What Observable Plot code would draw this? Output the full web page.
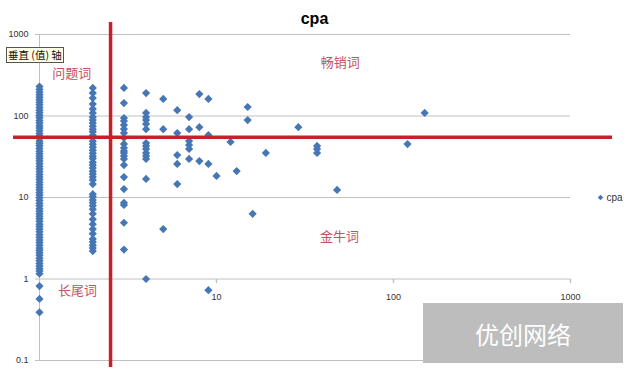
<!DOCTYPE html>
<html><head><meta charset="utf-8">
<script src="https://cdn.jsdelivr.net/npm/d3@7"></script>
<script src="https://cdn.jsdelivr.net/npm/@observablehq/plot@0.6"></script>
<style>
body{margin:0;background:#fff;}
#wrap{position:relative;width:628px;height:369px;overflow:hidden;font-family:"Liberation Sans",Arial,sans-serif;}
#wrap svg{position:absolute;left:0;top:0;}
#tip{position:absolute;left:6px;top:47px;height:14px;padding:0 1px;border:1px solid #555;background:#ffffe6;font:10.5px "Noto Sans CJK SC";line-height:14px;color:#111;white-space:nowrap;}
#wm{position:absolute;left:423px;top:303px;width:200px;height:60px;background:#bdbdbd;color:#fff;font:24px "Noto Sans CJK SC";display:flex;align-items:center;justify-content:center;}
</style></head>
<body>
<div id="wrap"></div>
<script>
// Clicks (x) groups and their cpa values (y)
const groupX = [1, 2, 3, 4, 5, 6, 7, 8, 9, 10, 12, 13, 15, 16, 19, 29, 37, 48, 120, 150];
const groupCpa = [
  [230, 212, 196, 182, 170, 158, 147, 137, 127, 118, 110, 102, 95, 88, 82, 76, 71, 66, 61, 57, 53, 49, 46, 43, 40, 37, 34.5, 32, 30, 28, 26, 24, 22.3, 20.7, 19.2, 17.9, 16.6, 15.4, 14.3, 13.3, 12.4, 11.5, 10.7, 9.9, 9.2, 8.5, 7.9, 7.3, 6.8, 6.3, 5.9, 5.5, 5.1, 4.7, 4.4, 4.1, 3.8, 3.5, 3.25, 3.0, 2.8, 2.6, 2.4, 2.25, 2.1, 1.95, 1.8, 1.67, 1.55, 1.44, 1.34, 1.25, 1.16, 0.82, 0.57, 0.39],
  [221, 191, 166, 140, 122, 109, 97, 89, 82, 75, 69, 64, 58, 54, 49, 45, 41.5, 38, 35, 32, 30, 27, 25, 23, 21, 19.4, 17.8, 16.4, 14.6, 11, 10.2, 9.3, 8.6, 7.9, 7.2, 6.3, 5.4, 4.7, 4.1, 3.6, 3.1, 2.85, 2.6, 2.4, 2.2],
  [221, 144, 94.5, 86.8, 77.6, 69.2, 61.8, 53.7, 45.3, 40.5, 37.2, 35.2, 32.3, 29.7, 25, 17.8, 12.7, 8.6, 8.1, 4.9, 2.3],
  [191, 109, 97, 89, 80, 69, 46.6, 42.9, 39.4, 35.2, 32.3, 29.7, 16.9, 1.0],
  [162, 69, 4.1],
  [118, 61.8, 33.2, 25.8, 14.6],
  [97, 69, 49.3, 44.1, 39.4, 29.7],
  [186, 73, 28],
  [162, 58.4, 25.8, 0.73],
  [18.4],
  [48],
  [21.1],
  [129, 89],
  [6.3],
  [35.2],
  [73],
  [42.9, 39.4, 35.2],
  [12.4],
  [45.3],
  [109]
];
const thresholdX = 2.52;
const thresholdY = 55;
const yTicks = [1000, 100, 10, 1, 0.1];
const xTicks = [10, 100, 1000];
const quadrantLabels = ["问题词", "畅销词", "金牛词", "长尾词"];
const quadrantX = [1.52, 50, 49.5, 1.64];
const quadrantY = [327, 447, 3.28, 0.712];
const seriesName = "cpa";
const axisTitle = "垂直 (值) 轴";
const watermark = "优创网络";

const points = groupX.flatMap((x, i) => groupCpa[i].map(y => ({x, y})));
const quadrants = quadrantLabels.map((label, i) => ({label, x: quadrantX[i], y: quadrantY[i]}));

const blue = "#4676b3";
const red = "#c8202a";
const grid = "#c0c0c0";
const labelColor = "#c65064";
const tickDown = {draw(ctx) { ctx.moveTo(0, 0); ctx.lineTo(0, 4); }};

const chart = Plot.plot({
  width: 628, height: 369,
  marginLeft: 39, marginRight: 58, marginTop: 34, marginBottom: 9,
  x: {type: "log", domain: [1, 1000], axis: null},
  y: {type: "log", domain: [0.1, 1000], axis: null},
  style: {fontFamily: "'Liberation Sans', Arial, sans-serif", background: "transparent", overflow: "visible"},
  marks: [
    Plot.ruleY(yTicks, {y: d => d, stroke: grid, insetLeft: -4}),
    Plot.ruleX([1], {x: d => d, stroke: grid}),
    Plot.dot(xTicks, {x: d => d, y: () => 1, symbol: tickDown, stroke: grid, fill: "none"}),
    Plot.text(yTicks, {y: d => d, text: d => String(d), frameAnchor: "left", textAnchor: "end", dx: -11, fontSize: 9, fill: "#333"}),
    Plot.text(xTicks, {x: d => d, y: () => 1, text: d => String(d), dy: 18, fontSize: 9, fill: "#333"}),
    Plot.dot(points, {x: "x", y: "y", symbol: "diamond2", r: 3.7, fill: blue}),
    Plot.ruleX([thresholdX], {x: d => d, stroke: red, strokeWidth: 3.5, insetTop: -12, insetBottom: -7}),
    Plot.ruleY([thresholdY], {y: d => d, stroke: red, strokeWidth: 3.5, insetLeft: -26, insetRight: -42}),
    Plot.text(quadrants, {x: "x", y: "y", text: "label", fill: labelColor, fontSize: 13, fontFamily: "'Noto Sans CJK SC'"}),
    Plot.text([seriesName], {text: d => d, frameAnchor: "top", dx: 9.5, dy: -22, fontSize: 16, fontWeight: "bold", fill: "#000"}),
    Plot.dot([seriesName], {frameAnchor: "right", dx: 30, symbol: "diamond2", r: 2.5, fill: blue}),
    Plot.text([seriesName], {text: d => d, frameAnchor: "right", dx: 36, textAnchor: "start", fontSize: 10, fill: "#333"})
  ]
});
const wrap = document.getElementById("wrap");
wrap.appendChild(chart);
const tip = document.createElement("div"); tip.id = "tip"; tip.textContent = axisTitle; wrap.appendChild(tip);
const wm = document.createElement("div"); wm.id = "wm"; wm.textContent = watermark; wrap.appendChild(wm);
</script>
</body></html>
